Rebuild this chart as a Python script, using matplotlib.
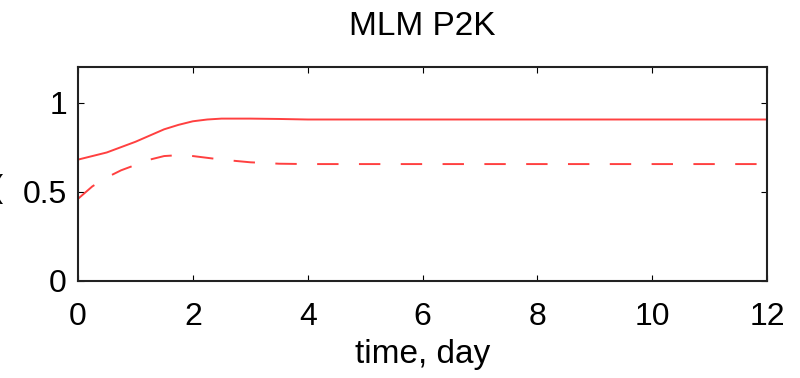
import numpy as np
import matplotlib.pyplot as plt

plt.rcParams['font.family'] = ['Liberation Sans', 'DejaVu Sans']

# curves
t = [0, 0.25, 0.5, 0.75, 1, 1.25, 1.5, 1.75, 2, 2.25, 2.5, 3, 3.5, 4, 6, 8, 10, 12]
solid = [0.68, 0.70, 0.72, 0.75, 0.78, 0.815, 0.85, 0.875, 0.895, 0.905, 0.91, 0.91, 0.908, 0.905, 0.905, 0.905, 0.905, 0.905]
dashed = [0.46, 0.53, 0.58, 0.62, 0.65, 0.68, 0.70, 0.705, 0.70, 0.69, 0.68, 0.665, 0.657, 0.655, 0.655, 0.655, 0.655, 0.655]

xticks = [0, 2, 4, 6, 8, 10, 12]
yticks = [0, 0.5, 1]
yticklabels = ['0', '0.5', '1']

fig = plt.figure(figsize=(8, 3.78), dpi=100)
ax = fig.add_axes([0.0975, 0.257, 0.8615, 0.566])

ax.plot(t, solid, color='#ff4040', lw=1.4)
ax.plot(t, dashed, color='#ff4040', lw=1.4, dashes=(11, 10.5))

ax.set_xlim(0, 12)
ax.set_ylim(0, 1.2)
ax.set_xticks(xticks)
ax.set_yticks(yticks)
ax.set_yticklabels(yticklabels)
ax.tick_params(direction='in', labelsize=23, length=4, top=True, right=True)
ax.tick_params(axis='x', pad=15)
ax.tick_params(axis='y', pad=8)
for s in ax.spines.values():
    s.set_linewidth(1.5)
    s.set_color('#222222')

ax.set_title('MLM P2K', fontsize=24, pad=23)
ax.set_xlabel('time, day', fontsize=24, labelpad=5)
# y label mostly cut off at the left edge, as in the original
fig.text(-0.01, 0.5, '(', fontsize=22, va='center', ha='left')

fig.savefig('out.png', dpi=100)
